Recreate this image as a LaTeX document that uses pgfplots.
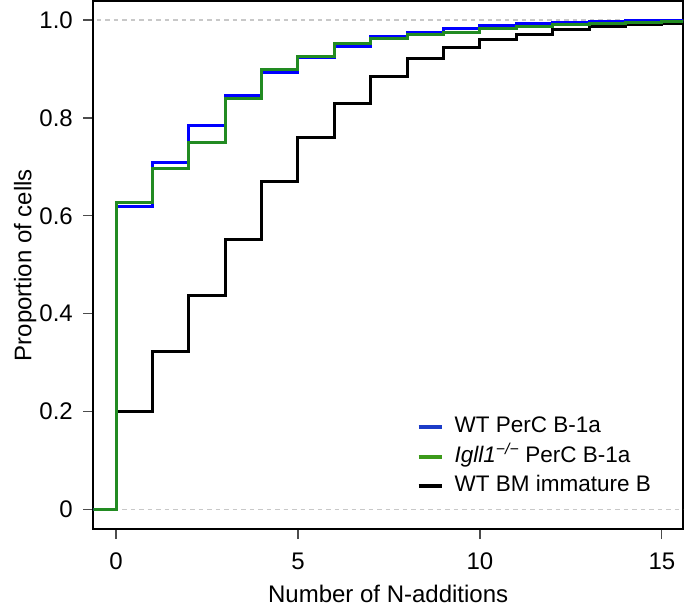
\documentclass[border=0pt]{standalone}
\usepackage{fontspec}
\setmainfont{Liberation Sans}
\usepackage{pgfplots}
\pgfplotsset{compat=1.18}
\definecolor{wtblue}{RGB}{0,0,255}
\definecolor{kogreen}{RGB}{34,139,34}
\definecolor{legblue}{RGB}{28,60,200}
\definecolor{leggreen}{RGB}{60,154,26}
\definecolor{refgray}{RGB}{200,200,200}
\begin{document}
\begin{tikzpicture}
\begin{axis}[
  scale only axis,
  width=589.7pt, height=528pt,
  xmin=-0.624, xmax=15.58,
  ymin=-0.040, ymax=1.039,
  axis line style={line width=1.6pt},
  tick align=outside,
  major tick length=10pt,
  tick style={line width=1.2pt, color=black!70},
  xtick={0,5,10,15},
  xticklabels={0,5,10,15},
  ytick={0,0.2,0.4,0.6,0.8,1.0},
  yticklabels={0,0.2,0.4,0.6,0.8,1.0},
  xtick pos=bottom, ytick pos=left,
  tick label style={font=\fontsize{24}{28}\selectfont},
  xticklabel style={anchor=north, inner sep=0pt, yshift=-14pt},
  yticklabel style={anchor=east, inner sep=0pt, xshift=-10.3pt},
  label style={font=\fontsize{24}{28}\selectfont},
  xlabel={Number of N-additions},
  ylabel={Proportion of cells},
  xlabel style={at={(axis description cs:0.5,-0.1385)}, anchor=base, inner sep=0pt},
  ylabel style={at={(axis description cs:-0.1052,0.5)}, anchor=base, inner sep=0pt},
  legend cell align=left,
  legend style={at={(axis description cs:0.548,0.0586)}, anchor=south west,
    draw=none, fill=none, inner sep=0pt, row sep=6.5pt, column sep=10pt,
    font=\fontsize{22.5}{26}\selectfont,
    nodes={inner sep=1pt, text height=16pt, text depth=5pt}},
  legend image code/.code={\draw[#1, line width=4pt] (0pt,0pt) -- (23pt,0pt);},
]
% reference lines at 0 and 1
\addplot[refgray, line width=1.4pt, dash pattern=on 4.5pt off 4pt, forget plot]
  coordinates {(-1,0) (16,0)};
\addplot[refgray, line width=1.4pt, dash pattern=on 4.5pt off 4pt, forget plot]
  coordinates {(-1,1) (16,1)};

\addlegendimage{legblue}
\addlegendentry{WT PerC B-1a}
\addlegendimage{leggreen}
\addlegendentry{\textit{Igll1}\textsuperscript{\textit{−/−}} PerC B-1a}
\addlegendimage{black}
\addlegendentry{WT BM immature B}

% WT BM immature B
\addplot[black, line width=3pt, const plot, forget plot] coordinates {
  (-1,0) (0,0.200) (1,0.323) (2,0.438) (3,0.552) (4,0.671) (5,0.760)
  (6,0.830) (7,0.884) (8,0.922) (9,0.943) (10,0.960) (11,0.971)
  (12,0.980) (13,0.986) (14,0.990) (15,0.993) (16,0.993)
};
% WT PerC B-1a
\addplot[wtblue, line width=3pt, const plot, forget plot] coordinates {
  (-1,0) (0,0.620) (1,0.709) (2,0.784) (3,0.846) (4,0.893) (5,0.924)
  (6,0.947) (7,0.966) (8,0.975) (9,0.982) (10,0.988) (11,0.992)
  (12,0.996) (13,0.998) (14,0.999) (15,1.000) (16,1.000)
};
% Igll1-/- PerC B-1a
\addplot[kogreen, line width=3pt, const plot, forget plot] coordinates {
  (-1,0) (0,0.627) (1,0.697) (2,0.749) (3,0.839) (4,0.898) (5,0.925)
  (6,0.952) (7,0.962) (8,0.971) (9,0.975) (10,0.983) (11,0.986)
  (12,0.990) (13,0.992) (14,0.995) (15,0.997) (16,0.997)
};
\end{axis}
\pgfresetboundingbox
\useasboundingbox ([shift={(-93.3pt,-77pt)}]current axis.south west)
  rectangle ([shift={(2pt,1pt)}]current axis.north east);
\end{tikzpicture}
\end{document}
